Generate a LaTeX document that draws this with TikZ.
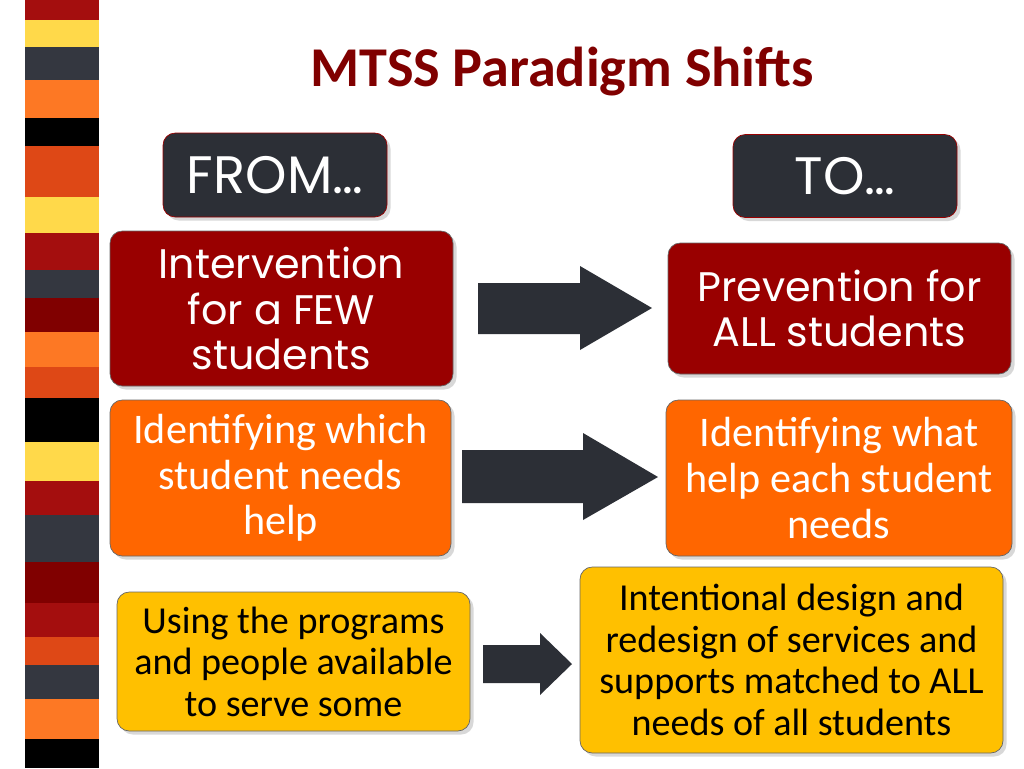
\documentclass[tikz,border=0pt]{standalone}
\usepackage{fontspec}
\setmainfont{Carlito}
\newfontfamily\geo{Poppins}
\usetikzlibrary{shadows}
\definecolor{dk}{RGB}{44,47,54}
\definecolor{mr}{RGB}{153,0,0}
\definecolor{or}{RGB}{255,102,0}
\definecolor{gd}{RGB}{255,192,0}
\definecolor{ttl}{RGB}{128,0,0}
\definecolor{sR}{RGB}{164,14,14}
\definecolor{sY}{RGB}{255,217,74}
\definecolor{sD}{RGB}{52,55,64}
\definecolor{sO}{RGB}{253,120,36}
\definecolor{sK}{RGB}{0,0,0}
\definecolor{sE}{RGB}{222,72,22}
\definecolor{sM}{RGB}{128,0,0}
\tikzset{
 box/.style={rounded corners=7pt, draw=black!60, line width=0.4pt, drop shadow={shadow xshift=2pt,shadow yshift=-2pt,opacity=0.3}, align=center, inner sep=0pt},
 hdr/.style={box, fill=dk, draw=mr, text=white, font=\geo\fontsize{30}{34}\selectfont},
 lvl1/.style={box, fill=mr, text=white, font=\geo\fontsize{23.5}{26}\selectfont},
 lvl2/.style={box, fill=or, text=white, font=\fontsize{24}{26}\selectfont},
 lvl3/.style={box, fill=gd, text=black, font=\fontsize{21.7}{23.6}\selectfont},
 barrow/.style={fill=dk}
}
\begin{document}
\begin{tikzpicture}[x=0.02cm,y=-0.02cm]
\useasboundingbox (0,0) rectangle (1024,768);
\fill[white] (0,0) rectangle (1024,768);
% stripe
\foreach \a/\b/\c in {0/20/sR,20/47/sY,47/80/sD,80/118/sO,118/146/sK,146/197/sE,197/233/sY,233/270/sR,270/298/sD,298/332/sM,332/367/sO,367/398/sE,398/442/sK,442/481/sY,481/515/sR,515/562/sD,562/603/sM,603/637/sR,637/665/sE,665/699/sD,699/739/sO,739/768/sK}
  \fill[\c] (25,\a) rectangle (99,\b);
\node[text=ttl, font=\bfseries\fontsize{32}{36}\selectfont] (title) at (562,72) {MTSS Paradigm Shifts};
\node[hdr, minimum width=224*0.02cm, minimum height=84*0.02cm] (from) at (275,175) {FROM…};
\node[hdr, minimum width=224*0.02cm, minimum height=83*0.02cm] (to) at (845,176) {TO…};
\node[lvl1, minimum width=343*0.02cm, minimum height=155*0.02cm] (f1) at (281.5,308.5) {Intervention\\for a FEW\\students};
\node[lvl1, minimum width=343*0.02cm, minimum height=131*0.02cm] (t1) at (839.5,308.5) {Prevention for\\ALL students};
\node[lvl2, minimum width=341*0.02cm, minimum height=156*0.02cm] (f2) at (280.5,478) {Identifying which\\student needs\\help};
\node[lvl2, minimum width=346*0.02cm, minimum height=156*0.02cm] (t2) at (839,478) {Identifying what\\help each student\\needs};
\node[lvl3, minimum width=353*0.02cm, minimum height=139*0.02cm] (f3) at (293.5,661.5) {Using the programs\\and people available\\to serve some};
\node[lvl3, minimum width=423*0.02cm, minimum height=186*0.02cm] (t3) at (791.5,660) {Intentional design and\\redesign of services and\\supports matched to ALL\\needs of all students};
% block arrows
\fill[barrow] (478,283) -- (580,283) -- (580,266) -- (652,308) -- (580,350) -- (580,334) -- (478,334) -- cycle;
\fill[barrow] (462,450) -- (583,450) -- (583,433) -- (658,477) -- (583,520) -- (583,503) -- (462,503) -- cycle;
\fill[barrow] (483,645) -- (540,645) -- (540,633) -- (572,664) -- (540,695) -- (540,683) -- (483,683) -- cycle;
\end{tikzpicture}
\end{document}
